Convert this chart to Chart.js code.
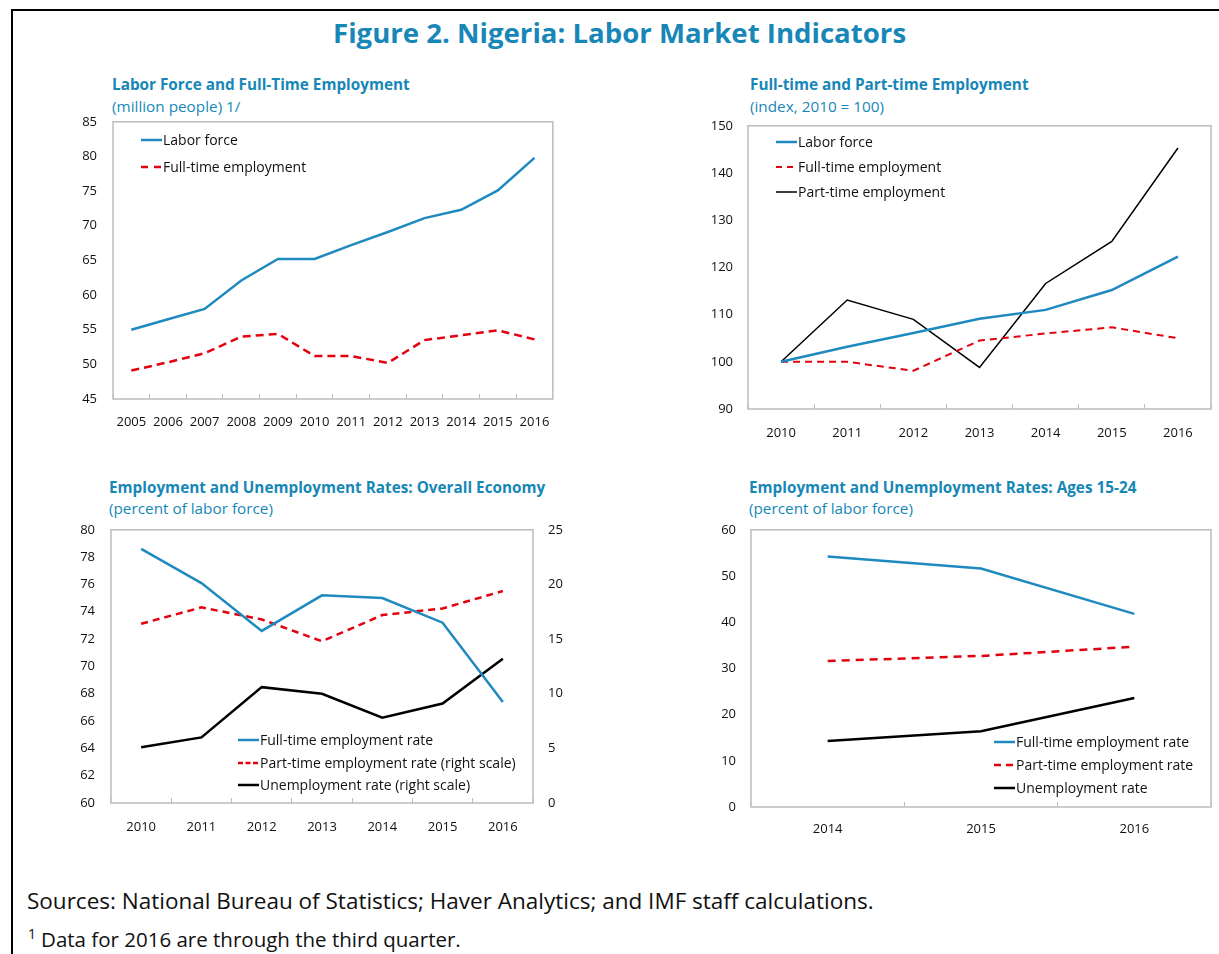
<!DOCTYPE html>
<html>
<head>
<meta charset="utf-8">
<script src="https://cdn.jsdelivr.net/npm/chart.js@4.4.1/dist/chart.umd.min.js"></script>
<style>
  html, body { margin: 0; padding: 0; background: #fff; }
  body { width: 1219px; height: 954px; position: relative; overflow: hidden; font-family: 'Open Sans', sans-serif; }
  #frame { position: absolute; left: 11px; top: 9px; width: 1300px; height: 1000px; border-top: 2px solid #000; border-left: 2px solid #000; }
  .abs { position: absolute; white-space: nowrap; }
  .fig-title { font-weight: 700; font-size: 27.6px; color: #1787b7; line-height: 32px; }
  .p-title { font-weight: 700; font-size: 15.3px; color: #1787b7; line-height: 20px; }
  .p-sub { font-size: 15.3px; color: #1787b7; line-height: 20px; }
  .legend-row { position: absolute; display: flex; align-items: center; font-size: 14px; color: #111; line-height: 20px; white-space: nowrap; }
  .legend-row svg { display: block; margin-right: 1px; }
  canvas { position: absolute; }
  .note { color: #111; line-height: 28px; }
  .note sup { font-size: 14px; vertical-align: 8px; line-height: 0; margin-right: 5px; }
</style>
</head>
<body>
<div id="frame"></div>
<div class="abs fig-title" style="left:333px; top:16px;">Figure 2. Nigeria: Labor Market Indicators</div>

<div class="abs p-title" style="left:112px; top:74px;">Labor Force and Full-Time Employment</div>
<div class="abs p-sub" style="left:112px; top:96px;">(million people) 1/</div>
<div class="abs p-title" style="left:750px; top:74px;">Full-time and Part-time Employment</div>
<div class="abs p-sub" style="left:750px; top:96px;">(index, 2010 = 100)</div>
<div class="abs p-title" style="left:109px; top:477px;">Employment and Unemployment Rates: Overall Economy</div>
<div class="abs p-sub" style="left:109px; top:498px;">(percent of labor force)</div>
<div class="abs p-title" style="left:749px; top:477px;">Employment and Unemployment Rates: Ages 15-24</div>
<div class="abs p-sub" style="left:749px; top:498px;">(percent of labor force)</div>

<canvas id="c1" width="510" height="342" style="left:60px; top:98px;"></canvas>
<canvas id="c2" width="530" height="347" style="left:690px; top:103px;"></canvas>
<canvas id="c3" width="540" height="339" style="left:50px; top:506px;"></canvas>
<canvas id="c4" width="530" height="343" style="left:690px; top:507px;"></canvas>

<div class="abs note" style="left:27px; top:887px; font-size:22.5px;">Sources: National Bureau of Statistics; Haver Analytics; and IMF staff calculations.</div>
<div class="abs note" style="left:28px; top:925px; font-size:20.5px;"><sup>1</sup>Data for 2016 are through the third quarter.</div>

<script>
// ---- Data ----
const yearsLong = ['2005','2006','2007','2008','2009','2010','2011','2012','2013','2014','2015','2016'];
const laborForceMn = [55.0, 56.5, 58.0, 62.1, 65.2, 65.2, 67.2, 69.1, 71.1, 72.3, 75.1, 79.8];
const fullTimeMn   = [49.1, 50.3, 51.6, 54.0, 54.4, 51.2, 51.2, 50.2, 53.5, 54.2, 54.9, 53.6];

const years2010 = ['2010','2011','2012','2013','2014','2015','2016'];
const laborForceIdx = [100, 103.2, 106.1, 109.1, 111.0, 115.2, 122.3];
const fullTimeIdx   = [100, 100.0, 98.1, 104.5, 106.0, 107.3, 105.0];
const partTimeIdx   = [100, 113.1, 109.0, 98.8, 116.6, 125.5, 145.3];

const fullTimeRate = [78.6, 76.1, 72.6, 75.2, 75.0, 73.2, 67.4];
const partTimeRate = [16.4, 17.9, 16.8, 14.8, 17.2, 17.8, 19.4];
const unempRate    = [5.1, 6.0, 10.6, 10.0, 7.8, 9.1, 13.2];

const yearsYouth = ['2014','2015','2016'];
const youthFullTime = [54.2, 51.6, 41.8];
const youthPartTime = [31.6, 32.7, 34.7];
const youthUnemp    = [14.3, 16.4, 23.6];

// ---- Styling ----
const BLUE = '#1f8ac0';
const RED = '#e3000f';
const BLACK = '#000000';
const FRAME = '#bdbdbd';
const FONT = "'Open Sans', sans-serif";

Chart.defaults.font.family = FONT;
Chart.defaults.font.size = 13;
Chart.defaults.color = '#111';

// Light grey box around the plotting area
const plotFrame = {
  id: 'plotFrame',
  beforeDatasetsDraw(chart) {
    const { ctx, chartArea: a } = chart;
    ctx.save();
    ctx.strokeStyle = FRAME;
    ctx.lineWidth = 1.5;
    ctx.strokeRect(a.left, a.top, a.right - a.left, a.bottom - a.top);
    ctx.restore();
  }
};

function xAxis(height, pad) {
  return {
    type: 'category',
    offset: true,
    grid: { display: true, offset: true, drawOnChartArea: false, drawTicks: true, tickLength: -5, color: FRAME, lineWidth: 1 },
    border: { display: false },
    ticks: { autoSkip: false, maxRotation: 0, padding: pad, color: '#111', font: { size: 13 } },
    afterFit(s) { s.height = height; }
  };
}

function yAxis(pos, width, min, max, step, pad) {
  return {
    position: pos,
    min, max,
    grid: { display: false, drawTicks: false },
    border: { display: false },
    ticks: { stepSize: step, padding: pad, color: '#111', font: { size: 13 } },
    afterFit(s) { s.width = width; }
  };
}

function line(label, data, color, width, dash, axis) {
  const d = { label, data, borderColor: color, backgroundColor: color, borderWidth: width, pointRadius: 0, tension: 0, fill: false };
  if (dash) d.borderDash = dash;
  if (axis) d.yAxisID = axis;
  return d;
}

function baseOptions(scales) {
  return {
    responsive: false,
    animation: false,
    layout: { padding: { left: 0, right: 0, top: 0, bottom: 0 } },
    plugins: { legend: { display: false }, tooltip: { enabled: false } },
    scales
  };
}

// Legend built from each chart's datasets
function buildLegend(chart, x, ys, dashOverride) {
  chart.data.datasets.forEach((ds, i) => {
    const row = document.createElement('div');
    row.className = 'legend-row';
    row.style.left = x + 'px';
    row.style.top = (ys[i] - 10) + 'px';
    const dash = ds.borderDash ? (dashOverride || ds.borderDash) : null;
    const dashAttr = dash ? ` stroke-dasharray="${dash.join(',')}"` : '';
    row.innerHTML = `<svg width="21" height="6"><line x1="0" y1="3" x2="21" y2="3" stroke="${ds.borderColor}" stroke-width="${ds.borderWidth}"${dashAttr}/></svg><span>${ds.label}</span>`;
    document.body.appendChild(row);
  });
}

// Panel 1: labor force and full-time employment (million people)
const chart1 = new Chart(document.getElementById('c1'), {
  type: 'line',
  data: {
    labels: yearsLong,
    datasets: [
      line('Labor force', laborForceMn, BLUE, 2.5),
      line('Full-time employment', fullTimeMn, RED, 2.5, [8, 5])
    ]
  },
  options: Object.assign(baseOptions({
    x: xAxis(41, 20),
    y: yAxis('left', 53, 45, 85, 5, 16)
  }), { layout: { padding: { right: 16 } } }),
  plugins: [plotFrame]
});
buildLegend(chart1, 141, [140, 167], [7, 6]);

// Panel 2: index, 2010 = 100
const chart2 = new Chart(document.getElementById('c2'), {
  type: 'line',
  data: {
    labels: years2010,
    datasets: [
      line('Labor force', laborForceIdx, BLUE, 2.5),
      line('Full-time employment', fullTimeIdx, RED, 2, [7, 5]),
      line('Part-time employment', partTimeIdx, BLACK, 1.5)
    ]
  },
  options: Object.assign(baseOptions({
    x: xAxis(41, 21),
    y: yAxis('left', 58, 90, 150, 10, 15)
  }), { layout: { padding: { right: 9 } } }),
  plugins: [plotFrame]
});
buildLegend(chart2, 776, [142, 167, 192], [6, 5]);

// Panel 3: overall economy rates, two scales
const chart3 = new Chart(document.getElementById('c3'), {
  type: 'line',
  data: {
    labels: years2010,
    datasets: [
      line('Full-time employment rate', fullTimeRate, BLUE, 2.5),
      line('Part-time employment rate (right scale)', partTimeRate, RED, 2.5, [7, 5], 'y1'),
      line('Unemployment rate (right scale)', unempRate, BLACK, 2.5, null, 'y1')
    ]
  },
  options: baseOptions({
    x: xAxis(42, 21),
    y: yAxis('left', 61, 60, 80, 2, 16),
    y1: yAxis('right', 57, 0, 25, 5, 15)
  }),
  plugins: [plotFrame]
});
buildLegend(chart3, 238, [740, 763, 785], [5, 2.5]);

// Panel 4: ages 15-24
const chart4 = new Chart(document.getElementById('c4'), {
  type: 'line',
  data: {
    labels: yearsYouth,
    datasets: [
      line('Full-time employment rate', youthFullTime, BLUE, 2.5),
      line('Part-time employment rate', youthPartTime, RED, 2.5, [8, 6]),
      line('Unemployment rate', youthUnemp, BLACK, 2.5)
    ]
  },
  options: Object.assign(baseOptions({
    x: xAxis(43, 19),
    y: yAxis('left', 61, 0, 60, 10, 15)
  }), { layout: { padding: { right: 9 } } }),
  plugins: [plotFrame]
});
buildLegend(chart4, 994, [742, 765, 788], [7, 5]);
</script>
</body>
</html>
